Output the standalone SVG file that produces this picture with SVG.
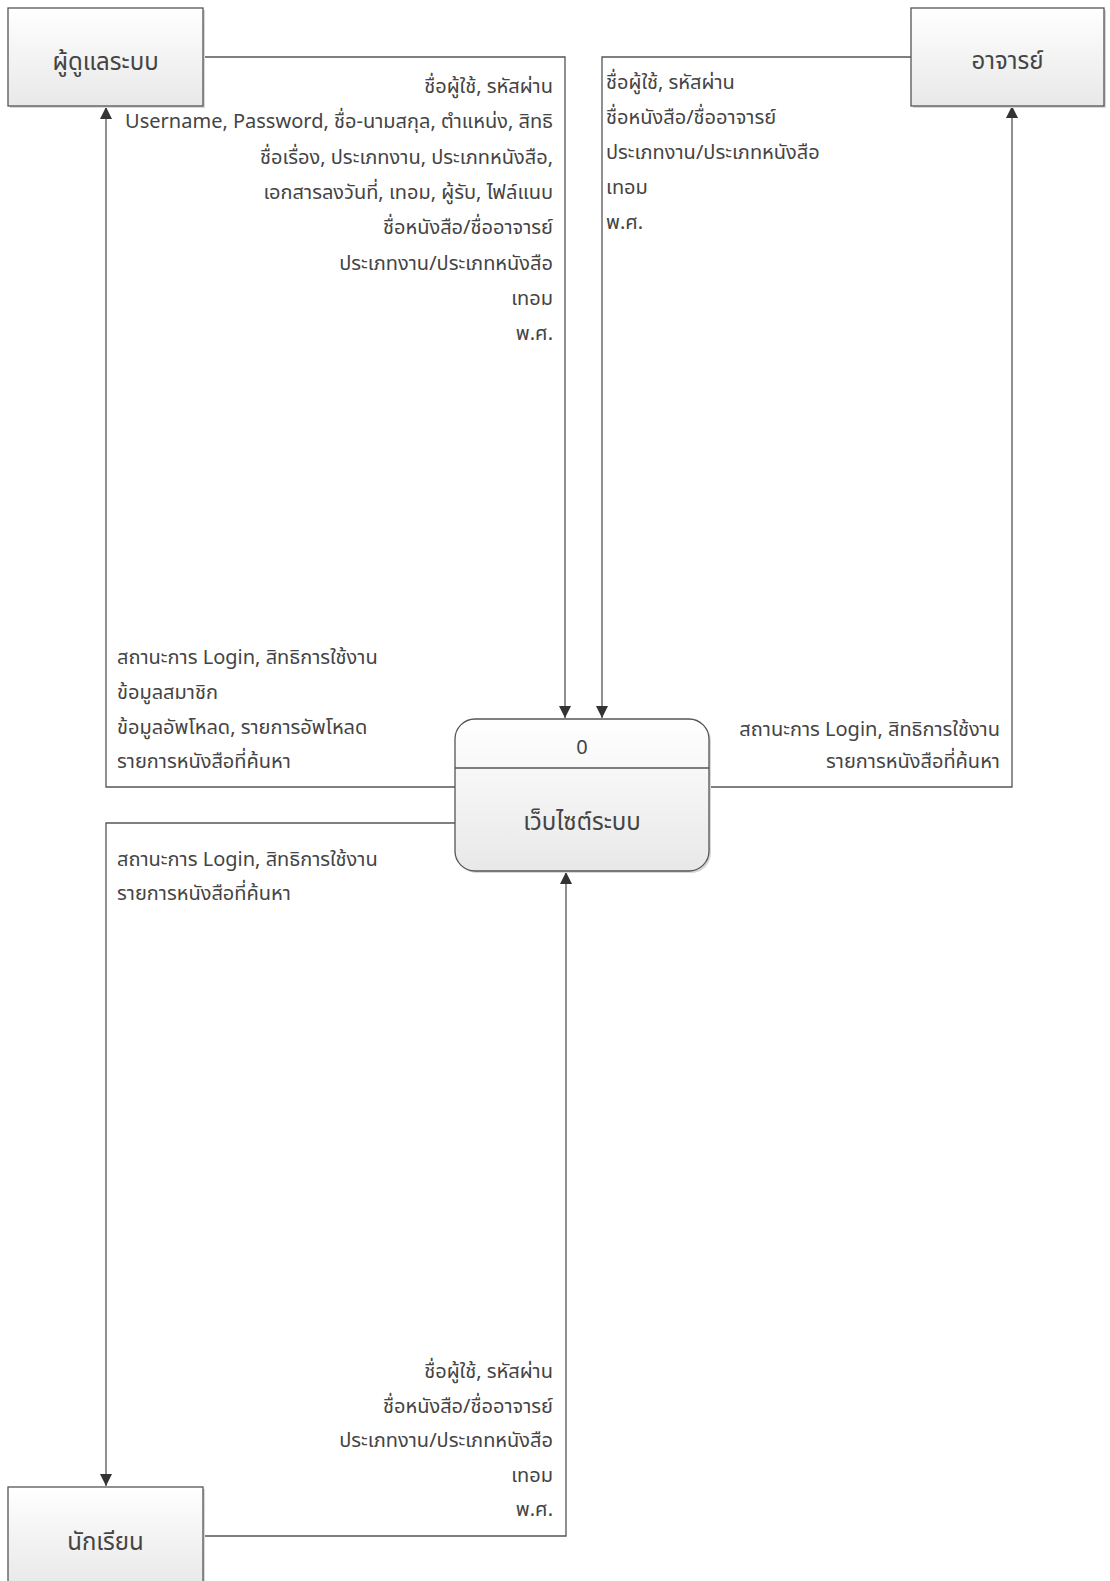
<svg xmlns="http://www.w3.org/2000/svg" width="1110" height="1581" viewBox="0 0 1110 1581">
<style>
text{font-family:"Noto Sans Thai","Leelawadee UI","Noto Sans","DejaVu Sans",sans-serif;font-size:20px;fill:#444}
.c{text-anchor:middle;font-size:24px}
.r{text-anchor:end}
.box{fill:url(#g);stroke:#555;stroke-width:1.3}
.sh{fill:#d8d8d8}
.ln{fill:none;stroke:#555;stroke-width:1.3}
</style>
<defs>
<linearGradient id="g" x1="0" y1="0" x2="0" y2="1"><stop offset="0" stop-color="#ffffff"/><stop offset="1" stop-color="#e8e8e8"/></linearGradient>
<marker id="a" viewBox="0 0 12 12" refX="12" refY="6" markerWidth="13" markerHeight="12" markerUnits="userSpaceOnUse" orient="auto"><path d="M0,0 L12,6 L0,12 z" fill="#333"/></marker>
</defs>
<rect width="1110" height="1581" fill="#fff"/>
<g id="connectors">
<path class="ln" d="M203,57 H565 V718" marker-end="url(#a)"/>
<path class="ln" d="M911,57 H602 V718" marker-end="url(#a)"/>
<path class="ln" d="M455,787 H106 V107" marker-end="url(#a)"/>
<path class="ln" d="M709,787 H1012 V106" marker-end="url(#a)"/>
<path class="ln" d="M455,823 H106 V1486" marker-end="url(#a)"/>
<path class="ln" d="M203,1536 H566 V872" marker-end="url(#a)"/>
<g id="lbl-admin-in">
<text class="r" x="553" y="93">ชื่อผู้ใช้, รหัสผ่าน</text>
<text class="r" x="553" y="128">Username, Password, ชื่อ-นามสกุล, ตำแหน่ง, สิทธิ</text>
<text class="r" x="553" y="164">ชื่อเรื่อง, ประเภทงาน, ประเภทหนังสือ,</text>
<text class="r" x="553" y="199">เอกสารลงวันที่, เทอม, ผู้รับ, ไฟล์แนบ</text>
<text class="r" x="553" y="234">ชื่อหนังสือ/ชื่ออาจารย์</text>
<text class="r" x="553" y="270">ประเภทงาน/ประเภทหนังสือ</text>
<text class="r" x="553" y="305">เทอม</text>
<text class="r" x="553" y="340">พ.ศ.</text>
</g>
<g id="lbl-teacher-in">
<text x="606" y="89">ชื่อผู้ใช้, รหัสผ่าน</text>
<text x="606" y="124">ชื่อหนังสือ/ชื่ออาจารย์</text>
<text x="606" y="159">ประเภทงาน/ประเภทหนังสือ</text>
<text x="606" y="194">เทอม</text>
<text x="606" y="229">พ.ศ.</text>
</g>
<g id="lbl-admin-out">
<text x="117" y="664">สถานะการ Login, สิทธิการใช้งาน</text>
<text x="117" y="699">ข้อมูลสมาชิก</text>
<text x="117" y="734">ข้อมูลอัพโหลด, รายการอัพโหลด</text>
<text x="117" y="768">รายการหนังสือที่ค้นหา</text>
</g>
<g id="lbl-teacher-out">
<text class="r" x="1000" y="736">สถานะการ Login, สิทธิการใช้งาน</text>
<text class="r" x="1000" y="768">รายการหนังสือที่ค้นหา</text>
</g>
<g id="lbl-student-out">
<text x="117" y="866">สถานะการ Login, สิทธิการใช้งาน</text>
<text x="117" y="900">รายการหนังสือที่ค้นหา</text>
</g>
<g id="lbl-student-in">
<text class="r" x="553" y="1378">ชื่อผู้ใช้, รหัสผ่าน</text>
<text class="r" x="553" y="1413">ชื่อหนังสือ/ชื่ออาจารย์</text>
<text class="r" x="553" y="1447">ประเภทงาน/ประเภทหนังสือ</text>
<text class="r" x="553" y="1482">เทอม</text>
<text class="r" x="553" y="1516">พ.ศ.</text>
</g>
</g>
<g id="admin">
<rect class="sh" x="10" y="10" width="195" height="98"/>
<rect class="box" x="8" y="8" width="195" height="98"/>
<text class="c" x="105.5" y="70">ผู้ดูแลระบบ</text>
</g>
<g id="teacher">
<rect class="sh" x="913" y="10" width="193" height="98"/>
<rect class="box" x="911" y="8" width="193" height="98"/>
<text class="c" x="1007.5" y="69">อาจารย์</text>
</g>
<g id="student">
<rect class="sh" x="10" y="1489" width="195" height="99"/>
<rect class="box" x="8" y="1487" width="195" height="99"/>
<text class="c" x="105.5" y="1550">นักเรียน</text>
</g>
<g id="process">
<rect class="sh" x="457" y="721" width="254" height="152" rx="20"/>
<rect class="box" x="455" y="719" width="254" height="152" rx="20"/>
<line class="ln" x1="455" y1="768" x2="709" y2="768"/>
<text class="c" x="582" y="754" style="font-size:20px">0</text>
<text class="c" x="582" y="830">เว็บไซต์ระบบ</text>
</g>
</svg>
